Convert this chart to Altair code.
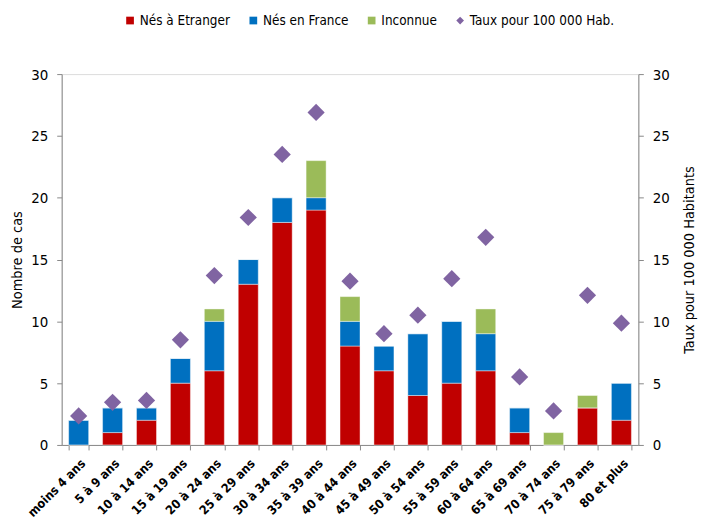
import altair as alt
import pandas as pd

categories = ["moins 4 ans", "5 à 9 ans", "10 à 14 ans", "15 à 19 ans", "20 à 24 ans",
              "25 à 29 ans", "30 à 34 ans", "35 à 39 ans", "40 à 44 ans", "45 à 49 ans",
              "50 à 54 ans", "55 à 59 ans", "60 à 64 ans", "65 à 69 ans", "70 à 74 ans",
              "75 à 79 ans", "80 et plus"]
etranger = [0, 1, 2, 5, 6, 13, 18, 19, 8, 6, 4, 5, 6, 1, 0, 3, 2]
france = [2, 2, 1, 2, 4, 2, 2, 1, 2, 2, 5, 5, 3, 2, 0, 0, 3]
inconnue = [0, 0, 0, 0, 1, 0, 0, 3, 2, 0, 0, 0, 2, 0, 1, 1, 0]
taux = [2.35, 3.45, 3.6, 8.5, 13.7, 18.4, 23.5, 26.9, 13.25, 9.0, 10.5, 13.45, 16.8, 5.5, 2.75, 12.1, 9.85]
series_names = ["Nés à Etranger", "Nés en France", "Inconnue", "Taux pour 100 000 Hab."]
colors = ["#C00000", "#0070C0", "#9BBB59", "#8064A2"]

FONT = "DejaVu Sans Condensed, Liberation Sans Narrow, sans-serif"

rows = []
for i, c in enumerate(categories):
    for k, vals in enumerate([etranger, france, inconnue]):
        rows.append({"cat": c, "serie": series_names[k], "val": vals[i], "ord": k})
bars_df = pd.DataFrame(rows)
taux_df = pd.DataFrame({"cat": categories, "taux": taux, "serie": series_names[3]})

color_scale = alt.Scale(domain=series_names, range=colors)
shape_scale = alt.Scale(domain=series_names, range=["square", "square", "square", "diamond"])

x_enc = alt.X(
    "cat:N", sort=categories, title=None,
    scale=alt.Scale(paddingInner=0.41, paddingOuter=0.205),
    axis=alt.Axis(labelAngle=-45, tickBand="extent", labelFont=FONT, labelFontSize=12.5,
                  labelFontWeight="bold", labelColor="#000", domainColor="#888",
                  tickColor="#888", tickSize=5, labelPadding=7),
)

legend = alt.Legend(title=None, orient="none", legendX=62, legendY=-61, direction="horizontal",
                    labelFont=FONT, labelFontSize=13.5, labelColor="#000", symbolSize=60,
                    columnPadding=16, symbolOpacity=1, symbolStrokeWidth=0, labelOffset=3,
                    labelLimit=300)

bars = alt.Chart(bars_df).mark_bar(stroke="white", strokeWidth=0.6, strokeOpacity=0.7).encode(
    x=x_enc,
    y=alt.Y("val:Q", stack="zero", title="Nombre de cas",
            scale=alt.Scale(domain=[0, 30], nice=False),
            axis=alt.Axis(values=[0, 5, 10, 15, 20, 25, 30], grid=False, labelFont=FONT,
                          labelFontSize=15, labelColor="#000", titleFont=FONT, titleFontSize=14.5,
                          titleFontWeight="normal", titleColor="#000", domainColor="#888",
                          tickColor="#888", tickSize=5, labelPadding=9, titlePadding=6)),
    color=alt.Color("serie:N", scale=color_scale, legend=legend),
    order=alt.Order("ord:Q"),
)

points = alt.Chart(taux_df).mark_point(filled=True, size=300, opacity=1).encode(
    x=alt.X("cat:N", sort=categories),
    y=alt.Y("taux:Q", title="Taux pour 100 000 Habitants",
            scale=alt.Scale(domain=[0, 30], nice=False),
            axis=alt.Axis(orient="right", values=[0, 5, 10, 15, 20, 25, 30], grid=False,
                          labelFont=FONT, labelFontSize=15, labelColor="#000", titleFont=FONT,
                          titleFontSize=14.5, titleFontWeight="normal", titleColor="#000",
                          titleAngle=270, domainColor="#888", tickColor="#888", tickSize=5,
                          labelPadding=9, titlePadding=27)),
    color=alt.Color("serie:N", scale=color_scale, legend=legend),
    shape=alt.Shape("serie:N", scale=shape_scale, legend=legend),
)

chart = alt.layer(bars, points).resolve_scale(y="independent").properties(
    width=580, height=373,
    autosize=alt.AutoSizeParams(type="none"),
    padding={"left": 54, "top": 65, "right": 62, "bottom": 72},
).configure_view(stroke=None).configure(background="white")

chart.save("out.html", embed_options={"renderer": "svg", "actions": False})
